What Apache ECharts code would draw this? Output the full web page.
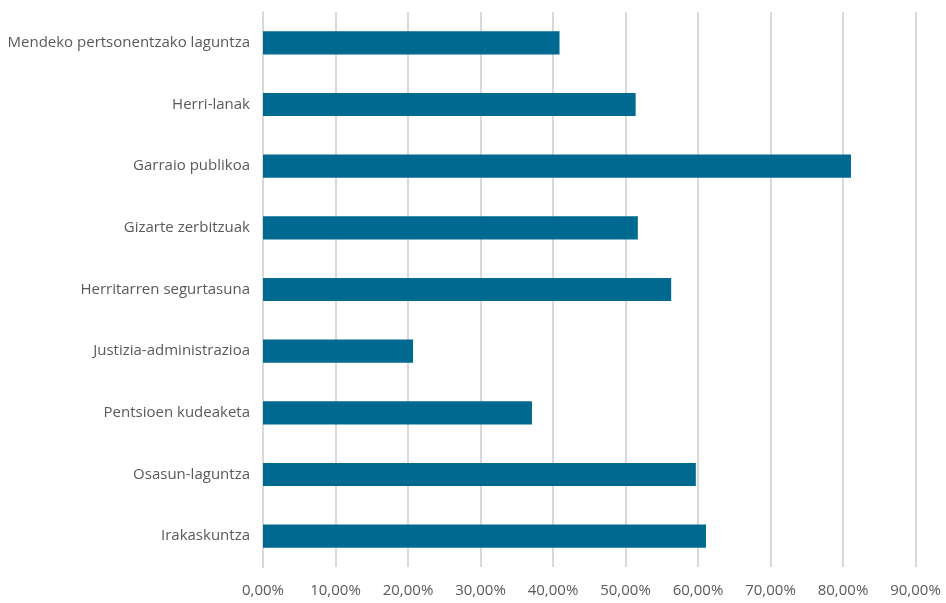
<!DOCTYPE html>
<html>
<head>
<meta charset="utf-8">
<script src="https://cdn.jsdelivr.net/npm/echarts@6/dist/echarts.min.js"></script>
<style>html,body{margin:0;padding:0;background:#fff}#c{width:946px;height:603px}</style>
</head>
<body>
<div id="c"></div>
<script>
const categories = ["Irakaskuntza","Osasun-laguntza","Pentsioen kudeaketa","Justizia-administrazioa","Herritarren segurtasuna","Gizarte zerbitzuak","Garraio publikoa","Herri-lanak","Mendeko pertsonentzako laguntza"];
const values = [61.1, 59.7, 37.1, 20.7, 56.3, 51.7, 81.1, 51.4, 40.9];
const xTicks = [0,10,20,30,40,50,60,70,80,90];

const chart = echarts.init(document.getElementById('c'));
chart.setOption({
  animation: false,
  grid: {left: 263, right: 30.5, top: 12, bottom: 36, containLabel: false},
  xAxis: {
    type: 'value', min: xTicks[0], max: xTicks[xTicks.length - 1], interval: xTicks[1] - xTicks[0],
    axisLine: {show: false}, axisTick: {show: false},
    splitLine: {show: true, lineStyle: {color: '#d9d9d9', width: 2}},
    axisLabel: {color: '#595959', fontSize: 15, fontFamily: 'Open Sans', margin: 16,
      formatter: v => v.toFixed(2).replace('.', ',') + '%'}
  },
  yAxis: {
    type: 'category', data: categories,
    axisLine: {show: true, lineStyle: {color: '#d9d9d9', width: 2}},
    axisTick: {show: false},
    axisLabel: {color: '#595959', fontSize: 15, fontFamily: 'Open Sans', margin: 13}
  },
  series: [{
    type: 'bar', data: values, barWidth: '37.5%',
    itemStyle: {color: '#006990'}
  }]
});
</script>
</body>
</html>
